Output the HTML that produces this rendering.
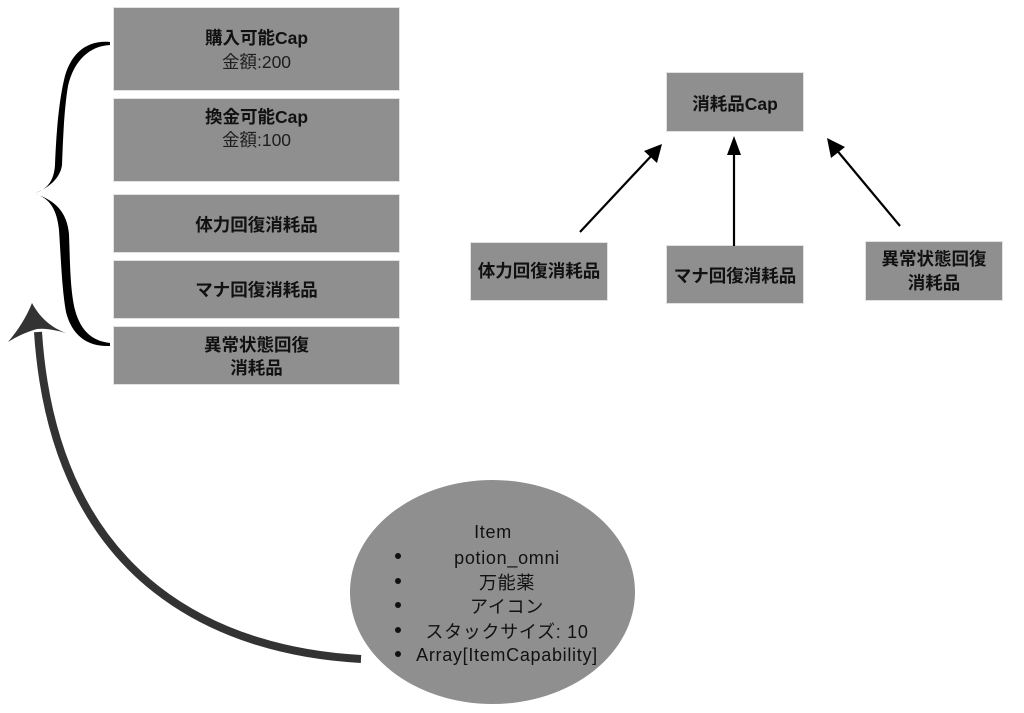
<!DOCTYPE html>
<html><head><meta charset="utf-8">
<style>
html,body{margin:0;padding:0;background:#fff;}
body{width:1024px;height:713px;position:relative;overflow:hidden;font-family:"Liberation Sans","Noto Sans CJK JP",sans-serif;}
.box{position:absolute;background:#8f8f8f;box-shadow:0 0 0 1px #e2e2e2;}
.t{position:absolute;text-align:center;white-space:nowrap;color:#111;font-size:17.5px;line-height:22px;}
.b{font-weight:bold;}
.r{font-weight:normal;color:#1e1e1e;}
.e{position:absolute;white-space:nowrap;color:#111;font-size:18px;line-height:22px;text-align:center;letter-spacing:0.7px;}
.dot{position:absolute;width:6px;height:6px;border-radius:50%;background:#111;}
svg{position:absolute;left:0;top:0;}
</style></head><body>

<!-- left boxes -->
<div class="box" style="left:114px;top:8px;width:285px;height:82px;"></div>
<div class="box" style="left:114px;top:99px;width:285px;height:82px;"></div>
<div class="box" style="left:114px;top:195px;width:285px;height:57px;"></div>
<div class="box" style="left:114px;top:261px;width:285px;height:57px;"></div>
<div class="box" style="left:114px;top:327px;width:285px;height:57px;"></div>

<!-- right boxes -->
<div class="box" style="left:667px;top:73px;width:136px;height:58px;"></div>
<div class="box" style="left:471px;top:243px;width:136px;height:57px;"></div>
<div class="box" style="left:667px;top:246px;width:136px;height:57px;"></div>
<div class="box" style="left:866px;top:242px;width:136px;height:58px;"></div>

<svg width="1024" height="713" viewBox="0 0 1024 713">
  <!-- ellipse -->
  <ellipse cx="492.5" cy="592" rx="142.5" ry="112" fill="#8f8f8f"/>
  <!-- brace -->
  <path d="M110,42 C86,40 70,54 64,80 C58,106 56,140 55,165 C54,180 48,189 35,193 C46,189 60,180 62,165 C63,140 64,110 68,86 C74,60 90,46 110,45 Z" fill="#000"/>
  <path d="M35,194 C50,198 57,210 59,230 C61,260 62,290 66,312 C72,336 88,347 110,346 L110,343 C93,341 81,332 75,310 C70,290 70,260 69,234 C67,212 55,200 35,194 Z" fill="#000"/>
  <!-- big curved arrow -->
  <path d="M361,659 C230,652 55,590 38,332" fill="none" stroke="#333" stroke-width="8"/>
  <path d="M32,303 C40,318 52,328 66,333 C55,330 46,328 37,329 C26,332 16,337 8,342 C18,330 26,318 32,303 Z" fill="#333"/>
  <!-- small arrows -->
  <g stroke="#000" stroke-width="2.2" fill="none">
    <line x1="580" y1="232" x2="653" y2="154"/>
    <line x1="734" y1="246" x2="734" y2="150"/>
    <line x1="900" y1="226" x2="835" y2="148"/>
  </g>
  <g fill="#000">
    <polygon points="662,144 657,163 644,151"/>
    <polygon points="734,136 741,155 727,155"/>
    <polygon points="827,138 845,147 831,158"/>
  </g>
</svg>

<!-- left box texts -->
<div class="t b" style="left:114px;width:285px;top:27px;">購入可能Cap</div>
<div class="t r" style="left:114px;width:285px;top:51px;">金額:200</div>
<div class="t b" style="left:114px;width:285px;top:106px;">換金可能Cap</div>
<div class="t r" style="left:114px;width:285px;top:129px;">金額:100</div>
<div class="t b" style="left:114px;width:285px;top:214px;">体力回復消耗品</div>
<div class="t b" style="left:114px;width:285px;top:279px;">マナ回復消耗品</div>
<div class="t b" style="left:114px;width:285px;top:334px;">異常状態回復</div>
<div class="t b" style="left:114px;width:285px;top:357px;">消耗品</div>

<!-- right box texts -->
<div class="t b" style="left:667px;width:136px;top:93px;">消耗品Cap</div>
<div class="t b" style="left:471px;width:136px;top:260px;">体力回復消耗品</div>
<div class="t b" style="left:667px;width:136px;top:265px;">マナ回復消耗品</div>
<div class="t b" style="left:866px;width:136px;top:248px;">異常状態回復</div>
<div class="t b" style="left:866px;width:136px;top:272px;">消耗品</div>

<!-- ellipse text -->
<div class="e" style="left:443px;width:100px;top:521px;">Item</div>
<div class="dot" style="left:395px;top:553px;"></div>
<div class="dot" style="left:395px;top:578px;"></div>
<div class="dot" style="left:395px;top:602px;"></div>
<div class="dot" style="left:395px;top:627px;"></div>
<div class="dot" style="left:395px;top:651px;"></div>
<div class="e" style="left:407px;width:200px;top:547px;">potion_omni</div>
<div class="e" style="left:407px;width:200px;top:572px;">万能薬</div>
<div class="e" style="left:407px;width:200px;top:596px;">アイコン</div>
<div class="e" style="left:407px;width:200px;top:621px;">スタックサイズ: 10</div>
<div class="e" style="left:407px;width:200px;top:644px;">Array[ItemCapability]</div>

</body></html>
